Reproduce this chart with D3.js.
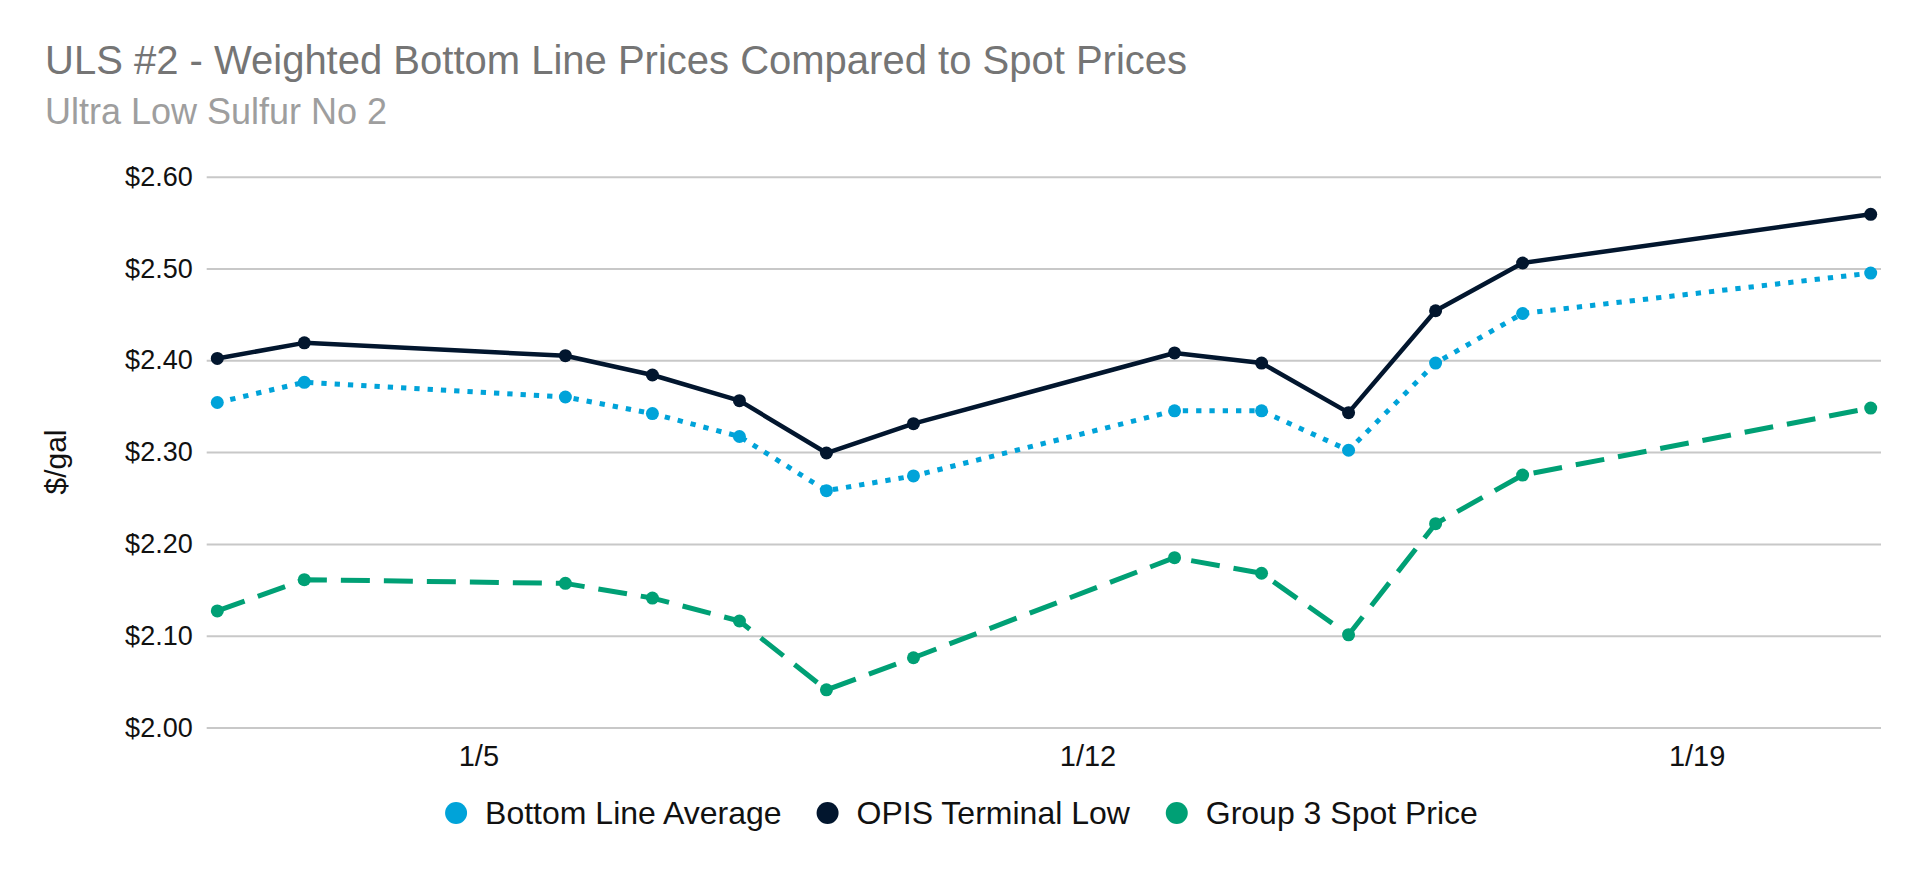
<!DOCTYPE html>
<html>
  <head>
    <title>ULS #2 - Weighted Bottom Line Prices Compared to Spot Prices</title>
    <script src="https://cdn.jsdelivr.net/npm/d3@7"></script>
    <style>
      html,
      body {
        margin: 0;
        padding: 0;
        background: #fff;
        font-family: "Liberation Sans", Arial, Helvetica, sans-serif;
      }
      #chart {
        width: 1923px;
        height: 874px;
      }
    </style>
  </head>
  <body>
    <div id="chart"></div>
    <script>
      // data (trading days, Jan 2025)
      const dates = [
        "2025-01-02", "2025-01-03", "2025-01-06", "2025-01-07", "2025-01-08",
        "2025-01-09", "2025-01-10", "2025-01-13", "2025-01-14", "2025-01-15",
        "2025-01-16", "2025-01-17", "2025-01-21",
      ];
      const bottomLineAverage = [
        2.354, 2.376, 2.360, 2.342, 2.317, 2.258, 2.274, 2.345, 2.345, 2.302,
        2.397, 2.451, 2.495,
      ];
      const opisTerminalLow = [
        2.402, 2.419, 2.405, 2.384, 2.356, 2.299, 2.331, 2.408, 2.397, 2.343,
        2.454, 2.506, 2.559,
      ];
      const group3Spot = [
        2.127, 2.161, 2.157, 2.141, 2.116, 2.041, 2.076, 2.185, 2.168, 2.101,
        2.222, 2.275, 2.348,
      ];
      const seriesNames = [
        "Bottom Line Average",
        "OPIS Terminal Low",
        "Group 3 Spot Price",
      ];
      const yTicks = [2.0, 2.1, 2.2, 2.3, 2.4, 2.5, 2.6];

      const width = 1923;
      const height = 874;
      const plotLeft = 206.7;
      const plotRight = 1881;
      const plotTop = 176.7;
      const plotBottom = 727.5;

      const parseDate = d3.timeParse("%Y-%m-%d");
      const days = dates.map(parseDate);

      const series = [
        { name: seriesNames[0], values: bottomLineAverage, color: "#00a3d9", width: 5, dash: "5.3,8" },
        { name: seriesNames[1], values: opisTerminalLow, color: "#02162e", width: 4.5, dash: null },
        { name: seriesNames[2], values: group3Spot, color: "#00a075", width: 5, dash: "29,14" },
      ];

      const svg = d3
        .select("#chart")
        .append("svg")
        .attr("width", width)
        .attr("height", height);

      const x = d3
        .scaleTime()
        .domain(d3.extent(days))
        .range([plotLeft + 10.6, plotRight - 10.3]);

      const y = d3
        .scaleLinear()
        .domain([2.0, 2.6])
        .range([plotBottom, plotTop]);

      // titles
      svg
        .append("text")
        .attr("x", 45)
        .attr("y", 74)
        .attr("fill", "#757575")
        .style("font-size", "40px")
        .text("ULS #2 - Weighted Bottom Line Prices Compared to Spot Prices");

      svg
        .append("text")
        .attr("x", 45)
        .attr("y", 124)
        .attr("fill", "#9e9e9e")
        .style("font-size", "36px")
        .text("Ultra Low Sulfur No 2");

      // gridlines + y labels
      const yAxis = svg
        .append("g")
        .attr("transform", `translate(${plotLeft},0)`)
        .call(
          d3
            .axisLeft(y)
            .tickValues(yTicks)
            .tickSize(-(plotRight - plotLeft))
            .tickPadding(14)
            .tickFormat((d) => "$" + d.toFixed(2))
        );
      yAxis.select(".domain").remove();
      yAxis.selectAll("line").attr("stroke", "#c8c8c8").attr("stroke-width", 2);
      yAxis
        .selectAll("text")
        .attr("fill", "#111")
        .style("font-size", "27px")
        .style("font-family", "'Liberation Sans', Arial, sans-serif");

      svg
        .append("text")
        .attr("transform", "translate(66,462) rotate(-90)")
        .attr("text-anchor", "middle")
        .attr("fill", "#111")
        .style("font-size", "30px")
        .text("$/gal");

      // x axis labels, weekly (sundays)
      const xAxis = svg
        .append("g")
        .attr("transform", `translate(0,${plotBottom})`)
        .call(
          d3
            .axisBottom(x)
            .ticks(d3.timeWeek.every(1))
            .tickSize(0)
            .tickPadding(18)
            .tickFormat(d3.timeFormat("%-m/%-d"))
        );
      xAxis.select(".domain").remove();
      xAxis
        .selectAll("text")
        .attr("fill", "#111")
        .style("font-size", "29px")
        .style("font-family", "'Liberation Sans', Arial, sans-serif");

      // lines and dots
      const line = d3
        .line()
        .x((d, i) => x(days[i]))
        .y((d) => y(d));

      series.forEach((s) => {
        svg
          .append("path")
          .datum(s.values)
          .attr("fill", "none")
          .attr("stroke", s.color)
          .attr("stroke-width", s.width)
          .attr("stroke-linejoin", "round")
          .attr("stroke-dasharray", s.dash)
          .attr("d", line);

        svg
          .append("g")
          .selectAll("circle")
          .data(s.values)
          .enter()
          .append("circle")
          .attr("cx", (d, i) => x(days[i]))
          .attr("cy", (d) => y(d))
          .attr("r", 6.5)
          .attr("fill", s.color);
      });

      // legend centered under the chart
      const legend = svg.append("g").attr("transform", "translate(0,813)");
      const items = legend
        .selectAll("g")
        .data(series)
        .enter()
        .append("g");
      items
        .append("circle")
        .attr("r", 11)
        .attr("cx", 11)
        .attr("fill", (d) => d.color);
      items
        .append("text")
        .attr("x", 40)
        .attr("dy", "0.35em")
        .attr("fill", "#111")
        .style("font-size", "32px")
        .text((d) => d.name);

      const widths = [];
      items.each(function () {
        widths.push(this.getBBox().width);
      });
      const gap = 35;
      const total = d3.sum(widths) + gap * (widths.length - 1);
      let offset = width / 2 - total / 2;
      items.attr("transform", (d, i) => {
        const t = `translate(${offset},0)`;
        offset += widths[i] + gap;
        return t;
      });
    </script>
  </body>
</html>
